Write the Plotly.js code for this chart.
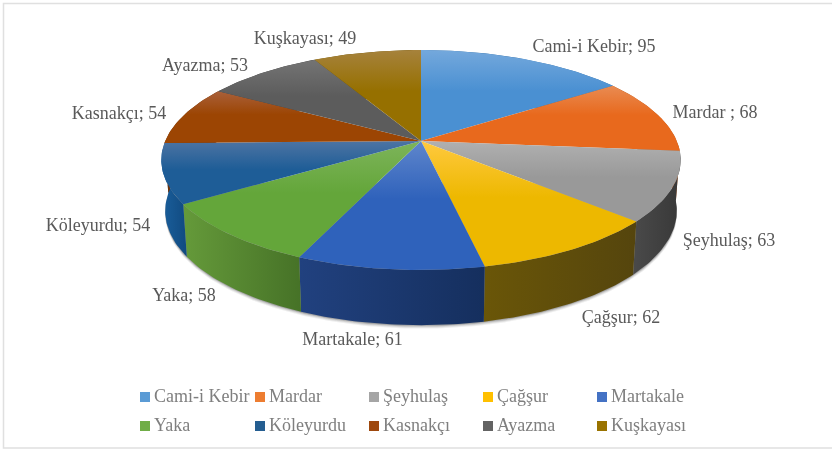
<!DOCTYPE html>
<html>
<head>
<meta charset="utf-8">
<script src="https://cdn.plot.ly/plotly-3.0.1.min.js"></script>
<style>html,body{margin:0;padding:0;background:#fff}#chart{width:832px;height:449px;filter:blur(0.35px)}</style>
</head>
<body>
<div id="chart"></div>
<script>
var categories = ['Cami-i Kebir','Mardar ','Şeyhulaş','Çağşur','Martakale','Yaka','Köleyurdu','Kasnakçı','Ayazma','Kuşkayası'];
var values = [95,68,63,62,61,58,54,54,53,49];
var topLight = ['#74a8dc','#e98b52','#b0b0b0','#ffc93f','#5f86cc','#7db45a','#4d74a3','#a9603a','#747474','#a6823c'];
var topDark  = ['#4a90d2','#e8691d','#999999','#edb800','#2f62bb','#64a63a','#1e5d97','#9c4503','#5c5c5c','#967000'];
var wallLeft  = ['#2f6da6','#b5561b','#4a4a4a','#6a5608','#21417f','#659a3a','#1a5f9c','#6e3208','#404040','#6b5000'];
var wallRight = ['#2f6da6','#b5561b','#383838','#55450d','#152f5e','#467227','#114a80','#6e3208','#404040','#6b5000'];
var labelAnchorX = [594,715,729,621,352.5,184,98,119,205,305];
var labelAnchorY = [47,113,241,318,340,296,226,114,66,39];
var legendColors = ['#5B9BD5','#ED7D31','#A5A5A5','#FFC000','#4472C4','#70AD47','#255E91','#9E480E','#636363','#997300'];
var legendColumns = [145,260,374,488,602];
var legendRows = [397,426];

// Perspective projection of the pie disc onto the page
var CX = 421, CY = 141, RX = 255.8, RY = 106.7, K = 0.1727;
function topPoint(deg){
  var t = deg*Math.PI/180, u = Math.sin(t), v = Math.cos(t), d = 1 + K*v;
  return [CX + RX*u/d, CY - RY*v/d];
}
function bottomPoint(deg){
  var p = topPoint(deg);
  return [CX + (p[0]-CX)*0.985, CY + 50 + (p[1]-CY)*1.04];
}
function arc(fn, a, b){
  var pts = [], n = Math.max(2, Math.ceil(Math.abs(b-a)));
  for (var i=0;i<=n;i++) pts.push(fn(a + (b-a)*i/n));
  return pts;
}
var total = values.reduce(function(s,v){return s+v;},0);
var cum = [0];
values.forEach(function(v,i){cum.push(cum[i]+v/total*360);});

var traces = [];

// soft shadow under the pie
[[3.5,0.07],[2.5,0.10],[1.5,0.14],[0.7,0.18]].forEach(function(s){
  var pts = arc(function(d){var p=bottomPoint(d);return [p[0],p[1]+s[0]];},85,275);
  traces.push({type:'scatter',mode:'lines',x:pts.map(function(p){return p[0];}),y:pts.map(function(p){return p[1];}),
    fill:'toself',fillcolor:'rgba(30,30,30,'+s[1]+')',line:{width:0},hoverinfo:'skip',showlegend:false});
});

// side walls
categories.forEach(function(c,i){
  var a = cum[i], b = cum[i+1];
  var t = arc(topPoint,a,b), w = arc(bottomPoint,b,a), pts = t.concat(w);
  pts.push(pts[0]);
  traces.push({type:'scatter',mode:'lines',x:pts.map(function(p){return p[0];}),y:pts.map(function(p){return p[1];}),
    fill:'toself',line:{width:0},fillcolor:wallRight[i],name:c.trim(),hoverinfo:'skip',showlegend:false,
    fillgradient:{type:'horizontal',colorscale:[[0,wallLeft[i]],[1,wallRight[i]]]}});
});

// top faces
categories.forEach(function(c,i){
  var pts = [[CX,CY]].concat(arc(topPoint,cum[i],cum[i+1]));
  pts.push([CX,CY]);
  traces.push({type:'scatter',mode:'lines',x:pts.map(function(p){return p[0];}),y:pts.map(function(p){return p[1];}),
    fill:'toself',line:{width:0},fillcolor:topDark[i],name:c.trim(),text:c.trim()+': '+values[i],hoverinfo:'text',showlegend:false,
    fillgradient:{type:'vertical',colorscale:[[0,topDark[i]],[0.55,topDark[i]],[1,topLight[i]]]}});
});

// data labels
traces.push({type:'scatter',mode:'text',x:labelAnchorX,y:labelAnchorY,
  text:categories.map(function(c,i){return c+'; '+values[i];}),
  textposition:'middle center',textfont:{family:'Liberation Serif',size:18,color:'#595959'},hoverinfo:'skip',showlegend:false});

// legend
categories.forEach(function(c,i){
  var lx = legendColumns[i%5], ly = legendRows[Math.floor(i/5)];
  traces.push({type:'scatter',mode:'markers',name:c.trim(),x:[lx],y:[ly],
    marker:{symbol:'square',size:10,color:legendColors[i]},hoverinfo:'skip',showlegend:false,cliponaxis:false});
  traces.push({type:'scatter',mode:'text',x:[lx+9],y:[ly],text:[c.trim()],
    textposition:'middle right',textfont:{family:'Liberation Serif',size:18,color:'#7f7f7f'},
    hoverinfo:'skip',showlegend:false,cliponaxis:false});
});

var layout = {
  width:832,height:449,margin:{l:0,r:0,t:0,b:0},paper_bgcolor:'#fff',plot_bgcolor:'#fff',showlegend:false,
  xaxis:{range:[0,832],visible:false,fixedrange:true},
  yaxis:{range:[449,0],visible:false,fixedrange:true},
  shapes:[{type:'path',xref:'x',yref:'y',path:'M832,3.5 L3.5,3.5 L3.5,448 L832,448',line:{color:'#e0e0e0',width:1.5},layer:'below'}]
};
Plotly.newPlot('chart',traces,layout,{displayModeBar:false,staticPlot:true});
</script>
</body>
</html>
